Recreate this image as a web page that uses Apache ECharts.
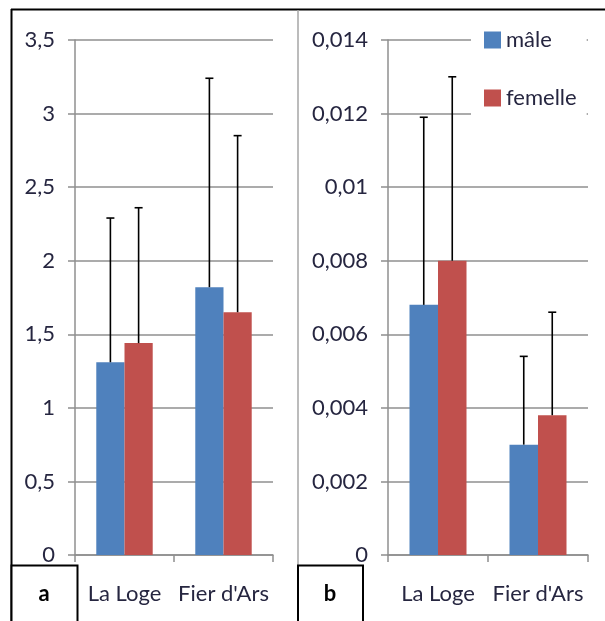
<!DOCTYPE html>
<html>
<head>
<meta charset="utf-8">
<script src="https://cdn.jsdelivr.net/npm/echarts@6/dist/echarts.min.js"></script>
<style>
  html, body { margin: 0; padding: 0; background: #fff; }
  #chart { width: 605px; height: 621px; }
</style>
</head>
<body>
<div id="chart"></div>
<script>
// Sites and series
var categories = ['La Loge', "Fier d'Ars"];
var seriesNames = ['mâle', 'femelle'];

// Panel a: means and standard deviations
var maleA = [1.31, 1.82];
var maleAsd = [0.98, 1.42];
var femaleA = [1.44, 1.65];
var femaleAsd = [0.92, 1.20];

// Panel b: means and standard deviations
var maleB = [0.0068, 0.0030];
var maleBsd = [0.0051, 0.0024];
var femaleB = [0.0080, 0.0038];
var femaleBsd = [0.0050, 0.0028];

var BLUE = '#4F81BD';
var RED = '#C0504D';
var GRID_GRAY = '#8f8f8f';
var TEXT = '#262640';
var FONT = 'Lato, "Open Sans", sans-serif';
var FONT_SIZE = 22;
var CAT_GAP = 0.43;

function commaFmt(digits) {
  return function (v) {
    if (v === 0) return '0';
    return String(+v.toFixed(digits)).replace('.', ',');
  };
}

// Upward error bar drawn over a grouped bar (side: -1 left bar, +1 right bar)
function errorSeries(name, means, sds, axisIndex, side) {
  var data = means.map(function (m, i) { return [i, m, m + sds[i]]; });
  return {
    type: 'custom',
    name: name + '_err',
    xAxisIndex: axisIndex,
    yAxisIndex: axisIndex,
    z: 5,
    silent: true,
    data: data,
    renderItem: function (params, api) {
      var catW = api.size([1, 0])[0];
      var barW = catW * (1 - CAT_GAP) / 2;
      var base = api.coord([api.value(0), api.value(1)]);
      var top = api.coord([api.value(0), api.value(2)]);
      var x = base[0] + side * barW / 2;
      var cap = 4;
      var style = { stroke: '#000', lineWidth: 1.6 };
      return {
        type: 'group',
        children: [
          { type: 'line', shape: { x1: x, y1: base[1], x2: x, y2: top[1] }, style: style },
          { type: 'line', shape: { x1: x - cap, y1: top[1], x2: x + cap, y2: top[1] }, style: style }
        ]
      };
    }
  };
}

function xAxisDef(gridIndex) {
  return {
    type: 'category',
    gridIndex: gridIndex,
    data: categories,
    axisLine: { lineStyle: { color: GRID_GRAY, width: 1.5 } },
    axisTick: { show: true, length: 7, lineStyle: { color: GRID_GRAY, width: 1.5 } },
    axisLabel: { color: TEXT, fontFamily: FONT, fontSize: FONT_SIZE, margin: 28, interval: 0, hideOverlap: false }
  };
}

function yAxisDef(gridIndex, max, interval, digits) {
  return {
    type: 'value',
    gridIndex: gridIndex,
    min: 0,
    max: max,
    interval: interval,
    axisLine: { show: true, lineStyle: { color: GRID_GRAY, width: 1.5 } },
    axisTick: { show: true, length: 7, lineStyle: { color: GRID_GRAY, width: 1.5 } },
    splitLine: { lineStyle: { color: GRID_GRAY, width: 1.5 } },
    axisLabel: { color: TEXT, fontFamily: FONT, fontSize: FONT_SIZE, margin: 20, formatter: commaFmt(digits) }
  };
}

function barSeries(name, values, axisIndex, color) {
  return {
    type: 'bar',
    name: name,
    xAxisIndex: axisIndex,
    yAxisIndex: axisIndex,
    data: values,
    barGap: '0%',
    barCategoryGap: (CAT_GAP * 100) + '%',
    itemStyle: { color: color },
    animation: false
  };
}

var chart = echarts.init(document.getElementById('chart'), null, { renderer: 'canvas' });

chart.setOption({
  animation: false,
  backgroundColor: '#fff',
  grid: [
    { left: 75, top: 40, width: 198, height: 515 },
    { left: 388, top: 40, width: 200, height: 515 }
  ],
  xAxis: [xAxisDef(0), xAxisDef(1)],
  yAxis: [yAxisDef(0, 3.5, 0.5, 1), yAxisDef(1, 0.014, 0.002, 3)],
  legend: {
    orient: 'vertical',
    left: 471,
    top: 17,
    padding: [12, 10, 12, 13],
    backgroundColor: '#fff',
    itemWidth: 17,
    itemHeight: 17,
    itemGap: 36,
    icon: 'rect',
    data: seriesNames,
    textStyle: { color: TEXT, fontFamily: FONT, fontSize: FONT_SIZE, letterSpacing: 3 }
  },
  series: [
    barSeries('mâle', maleA, 0, BLUE),
    barSeries('femelle', femaleA, 0, RED),
    barSeries('mâle', maleB, 1, BLUE),
    barSeries('femelle', femaleB, 1, RED),
    errorSeries('mâle', maleA, maleAsd, 0, -1),
    errorSeries('femelle', femaleA, femaleAsd, 0, 1),
    errorSeries('mâle', maleB, maleBsd, 1, -1),
    errorSeries('femelle', femaleB, femaleBsd, 1, 1)
  ],
  graphic: [
    // outer frame
    { type: 'line', shape: { x1: 11, y1: 9.5, x2: 605, y2: 9.5 }, style: { stroke: '#000', lineWidth: 2 } },
    { type: 'line', shape: { x1: 11.5, y1: 9, x2: 11.5, y2: 621 }, style: { stroke: '#000', lineWidth: 2 } },
    // divider between panels
    { type: 'line', shape: { x1: 298, y1: 10, x2: 298, y2: 565 }, style: { stroke: '#a6a6a6', lineWidth: 1.5 } },
    // panel tags
    { type: 'rect', shape: { x: 11.5, y: 565.5, width: 66, height: 60 }, style: { fill: '#fff', stroke: '#000', lineWidth: 2 } },
    { type: 'text', x: 44, y: 594, style: { text: 'a', font: 'bold 22px ' + FONT, fill: '#000', align: 'center', verticalAlign: 'middle' } },
    { type: 'rect', shape: { x: 298, y: 565.5, width: 65, height: 60 }, style: { fill: '#fff', stroke: '#000', lineWidth: 2 } },
    { type: 'text', x: 330, y: 594, style: { text: 'b', font: 'bold 22px ' + FONT, fill: '#000', align: 'center', verticalAlign: 'middle' } }
  ]
});
</script>
</body>
</html>
